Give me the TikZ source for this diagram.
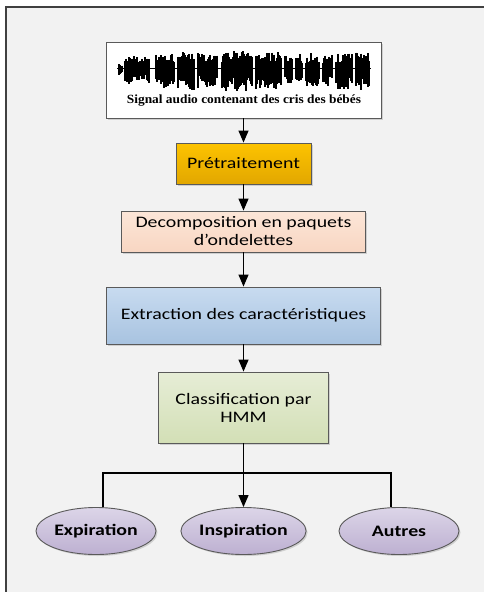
\documentclass[tikz,border=0pt]{standalone}
\usepackage{fontspec}
\setmainfont{Carlito}
\newfontfamily\boxfont{Carlito}[FakeStretch=1.24]
\newfontfamily\sigfont{Liberation Serif}[FakeStretch=1.07]
\usetikzlibrary{calc,arrows.meta,shapes.geometric,shadows,positioning}

\definecolor{fond}{HTML}{F2F2F2}
\definecolor{cadre}{HTML}{404040}
\definecolor{trait}{HTML}{5A5A5A}
\definecolor{orH}{HTML}{FDC300}
\definecolor{orB}{HTML}{E2A700}
\definecolor{pecheH}{HTML}{FCE6D8}
\definecolor{pecheB}{HTML}{F8D6C2}
\definecolor{bleuH}{HTML}{C8DBF0}
\definecolor{bleuB}{HTML}{A8C3E0}
\definecolor{vertH}{HTML}{E6EDD6}
\definecolor{vertB}{HTML}{D3DFB6}
\definecolor{mauveH}{HTML}{DCD5E8}
\definecolor{mauveB}{HTML}{BDB0D1}

\tikzset{
  bloc/.style={draw=trait, line width=0.9pt, inner sep=0pt, align=center,
    font=\boxfont\fontsize{16}{18}\selectfont,
    drop shadow={shadow xshift=1.5pt, shadow yshift=-1.5pt, opacity=.3}},
  classe/.style={bloc, ellipse, minimum width=120pt, minimum height=47pt,
    font=\boxfont\bfseries\fontsize{16}{18}\selectfont,
    top color=mauveH, bottom color=mauveB},
  fleche/.style={line width=1.2pt, -{Triangle[width=10pt,length=12pt]}},
  lien/.style={line width=1.1pt},
  onde/.style={line width=1.1pt, black},
}

\begin{document}
\begin{tikzpicture}[x=1pt,y=-1pt]
  \useasboundingbox (0,0) rectangle (483,592);
  \fill[white] (0,0) rectangle (483,592);
  \draw[fill=fond, draw=cadre, line width=1.5pt] (6,7) rectangle (520,620);

  % blocs
  \node[bloc, fill=white, minimum width=275pt, minimum height=76pt] (sig) at (243.5,80) {};
  \node[bloc, top color=orH, bottom color=orB, minimum width=135pt, minimum height=41pt] (pre) at (243.5,163.5) {Prétraitement};
  \node[bloc, top color=pecheH, bottom color=pecheB, minimum width=244pt, minimum height=41pt] (dec) at (243.5,231.5) {Decomposition en paquets\\d’ondelettes};
  \node[bloc, top color=bleuH, bottom color=bleuB, minimum width=274pt, minimum height=57pt] (ext) at (243.5,315.5) {Extraction des caractéristiques};
  \node[bloc, top color=vertH, bottom color=vertB, minimum width=170pt, minimum height=71pt] (cls) at (243.5,407.5) {Classification par\\HMM};

  \node[classe] (expi) at (96,531) {Expiration};
  \node[classe] (insp) at (243.5,531) {Inspiration};
  \node[classe] (autr) at (399,531) {Autres};

  % signal audio
  \pgfmathsetseed{11}
  \draw[onde, line width=1pt] (117,68) -- (371,68);
  \foreach \s/\e/\h in {119/122/5, 125/149/12, 156/174/15, 178/194/16, 198/217/15,
                        222/252/17, 256/281/16, 285/292/13, 296/302/14, 306/319/15,
                        323/332/13, 336/352/15, 356/369/16}
  {
    \foreach \i in {\s,...,\e}
    {
      \pgfmathsetmacro\up{\h*(0.35+0.65*rnd)}
      \pgfmathsetmacro\dn{\h*(0.5+0.9*rnd)}
      \draw[onde] (\i,68-\up) -- (\i,68+\dn);
    };
  };
  \node[font=\sigfont\bfseries\fontsize{12.5}{14}\selectfont] (legende) at (244,101) {Signal audio contenant des cris des bébés};

  % fleches
  \draw[fleche] (sig.south) -- (pre.north);
  \draw[fleche] (pre.south) -- (dec.north);
  \draw[fleche] (dec.south) -- (ext.north);
  \draw[fleche] (ext.south) -- (cls.north);
  \draw[fleche] (cls.south) -- (insp.north);

  \coordinate (busg) at (103,473);
  \coordinate (busd) at (391,473);
  \draw[lien] (busg |- expi.north) -- (busg) -- (busd) -- (busd |- autr.north);
\end{tikzpicture}
\end{document}
